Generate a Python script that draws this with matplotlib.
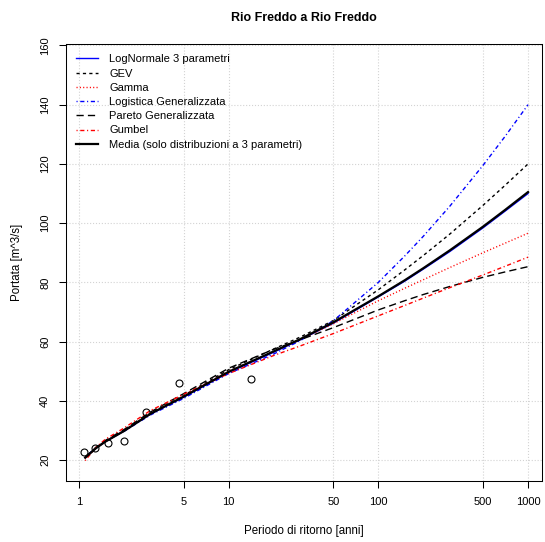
import matplotlib
matplotlib.use("Agg")
import matplotlib.pyplot as plt
import numpy as np

plt.rcParams['font.family'] = ['Liberation Sans', 'DejaVu Sans']

# tempi di ritorno delle curve
T = [1.1, 1.3, 1.5, 2, 3, 5, 10, 20, 30, 50, 100, 150, 200, 300, 500, 700, 1000]

lognormale = [20.8, 24.0, 26.2, 29.8, 35.5, 41.2, 49.6, 56.4, 60.6, 66.2, 75.1, 80.4, 84.5, 90.4, 98.4, 104.0, 110.0]
gev        = [21.0, 24.2, 26.3, 29.8, 35.8, 41.8, 50.5, 57.5, 61.5, 67.1, 77.5, 84.2, 89.1, 96.3, 106.0, 112.7, 120.0]
gamma      = [20.6, 24.0, 26.3, 30.0, 35.8, 41.6, 50.0, 56.6, 60.6, 66.0, 73.8, 78.0, 80.9, 85.0, 90.0, 93.2, 96.6]
logistica  = [21.0, 24.2, 26.3, 29.7, 35.2, 40.8, 49.2, 55.8, 60.3, 67.0, 80.0, 88.9, 95.6, 105.7, 119.5, 129.2, 140.0]
pareto     = [20.8, 24.3, 26.6, 30.3, 36.2, 42.4, 51.0, 57.4, 60.6, 64.7, 70.7, 73.8, 75.9, 78.6, 81.7, 83.5, 85.3]
gumbel     = [19.8, 24.3, 27.0, 30.8, 36.7, 42.2, 49.2, 55.3, 58.5, 62.7, 68.7, 72.2, 74.7, 78.2, 82.5, 85.4, 88.5]
media      = [20.8, 24.0, 26.2, 29.8, 35.6, 41.4, 49.8, 56.7, 60.8, 66.5, 75.3, 80.7, 84.8, 90.8, 98.8, 104.4, 110.5]

# osservazioni (posizioni di plotting)
T_oss = [1.077, 1.273, 1.556, 2.0, 2.8, 4.667, 14.0]
Q_oss = [22.7, 24.2, 25.6, 26.5, 36.3, 46.1, 47.5]

xticks = [1, 5, 10, 50, 100, 500, 1000]
yticks = [20, 40, 60, 80, 100, 120, 140, 160]

fig = plt.figure(figsize=(5.45, 5.42), dpi=100)
ax = fig.add_axes([0.1211, 0.1125, 0.8728, 0.8058])
ax.set_xscale('log')

ax.plot(T_oss, Q_oss, 'o', mfc='none', mec='black', ms=5, mew=0.8, zorder=5)

ax.plot(T, lognormale, color='blue', lw=1.0, label='LogNormale 3 parametri')
ax.plot(T, gev, color='black', lw=1.0, dashes=(2.3, 2.3), label='GEV')
ax.plot(T, gamma, color='red', lw=1.0, dashes=(0.8, 1.6), label='Gamma')
ax.plot(T, logistica, color='blue', lw=1.0, dashes=(0.8, 1.9, 3, 1.9), label='Logistica Generalizzata')
ax.plot(T, pareto, color='black', lw=1.0, dashes=(5.2, 3), label='Pareto Generalizzata')
ax.plot(T, gumbel, color='red', lw=1.0, dashes=(0.8, 1.9, 3, 1.9), label='Gumbel')
ax.plot(T, media, color='black', lw=1.6, label='Media (solo distribuzioni a 3 parametri)')

ax.set_xlim(0.819, 1233)
ax.set_ylim(12.9, 160.4)
ax.set_xticks(xticks)
ax.set_xticklabels([str(v) for v in xticks])
ax.minorticks_off()
ax.set_yticks(yticks)
for lab in ax.get_yticklabels():
    lab.set_rotation(90)
    lab.set_va('center')

ax.grid(True, color='#d3d3d3', ls=':', lw=0.8)
ax.set_axisbelow(True)
ax.tick_params(direction='out', length=5, width=0.75, labelsize=8, pad=6.5)
for s in ax.spines.values():
    s.set_linewidth(0.75)

ax.set_xlabel('Periodo di ritorno [anni]', fontsize=8.3, labelpad=13)
ax.set_ylabel('Portata [m^3/s]', fontsize=8.3, labelpad=12)
ax.set_title('Rio Freddo a Rio Freddo', fontsize=9, fontweight='bold', pad=17)

ax.legend(loc='upper left', bbox_to_anchor=(0.021, 0.977), frameon=False,
          fontsize=8, handlelength=2.0, handletextpad=1.0, labelspacing=0.38,
          borderpad=0, borderaxespad=0)

fig.savefig('out.png', dpi=100)
